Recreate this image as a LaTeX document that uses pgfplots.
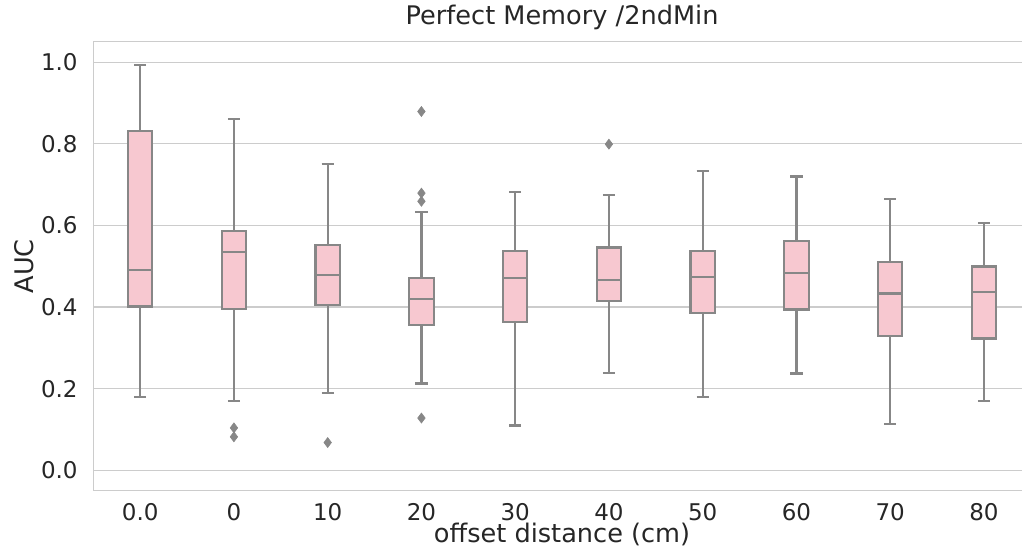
\documentclass[border=0pt]{standalone}
\usepackage{fontspec}
\setmainfont{DejaVu Sans}
\usepackage{pgfplots}
\pgfplotsset{compat=1.18}
\usepgfplotslibrary{statistics}
\definecolor{boxpink}{HTML}{F7C8D0}
\definecolor{boxgray}{HTML}{878787}
\definecolor{gridgray}{HTML}{CCCCCC}
\definecolor{txt}{HTML}{262626}
\newcommand{\bx}[6]{\addplot[boxplot prepared={draw direction=y, draw position=#1, lower whisker=#2, lower quartile=#3, median=#4, upper quartile=#5, upper whisker=#6, box extend=0.26, whisker extend=0.13}, draw=boxgray, fill=boxpink, line width=1.1pt] coordinates {};}
\begin{document}
\begin{tikzpicture}
\useasboundingbox (-46.65pt,-28.65pt) rectangle (464.35pt,245.35pt);
\clip (-46.65pt,-28.65pt) rectangle (464.35pt,245.35pt);
\begin{axis}[
  scale only axis, width=468.75pt, height=224.5pt,
  xmin=-0.5, xmax=9.5, ymin=-0.05, ymax=1.05,
  boxplot/draw direction=y,
  xtick={0,...,9}, xticklabels={0.0,0,10,20,30,40,50,60,70,80},
  ytick={0,0.2,0.4,0.6,0.8,1.0},
  /pgf/number format/assume math mode=true,
  yticklabel style={/pgf/number format/fixed, /pgf/number format/fixed zerofill, /pgf/number format/precision=1},
  major tick length=0pt,
  ymajorgrids=true,
  grid style={draw=gridgray, line width=0.6pt},
  axis line style={draw=gridgray, line width=0.7pt},
  tick label style={text=txt, font=\fontsize{11.5}{13}\selectfont},
  xticklabel style={anchor=base, inner sep=0pt, yshift=-14.65pt},
  yticklabel style={anchor=east, inner sep=0pt, xshift=-7.65pt},
  title={Perfect Memory /2ndMin},
  title style={at={(0.5,1)}, anchor=base, inner sep=0pt, yshift=2.85pt, text=txt, font=\fontsize{12.8}{14}\selectfont},
  xlabel={offset distance (cm)},
  xlabel style={at={(axis description cs:0.5,0)}, anchor=base, inner sep=0pt, yshift=-25.9pt, text=txt, font=\fontsize{12.8}{14}\selectfont},
  ylabel={AUC},
  ylabel style={at={(axis description cs:-0.064,0.5)}, anchor=base, inner sep=0pt, text=txt, font=\fontsize{12.8}{14}\selectfont},
]
\bx{0}{0.179}{0.4015}{0.4906}{0.8315}{0.992}
\bx{1}{0.169}{0.3957}{0.5347}{0.587}{0.860}
\bx{2}{0.189}{0.404}{0.478}{0.552}{0.751}
\bx{3}{0.2126}{0.3557}{0.420}{0.4718}{0.6336}
\bx{4}{0.110}{0.363}{0.4718}{0.537}{0.681}
\bx{5}{0.2388}{0.4145}{0.4669}{0.546}{0.674}
\bx{6}{0.179}{0.386}{0.4726}{0.538}{0.734}
\bx{7}{0.237}{0.394}{0.484}{0.5625}{0.720}
\bx{8}{0.1137}{0.3295}{0.433}{0.511}{0.665}
\bx{9}{0.169}{0.323}{0.4374}{0.4995}{0.605}
\addplot[only marks, mark=diamond*, mark size=2.5pt, color=boxgray, mark options={fill=boxgray, draw=boxgray, line width=0.3pt}] coordinates {(1,0.104) (1,0.082) (2,0.068) (3,0.879) (3,0.679) (3,0.659) (3,0.128) (5,0.799)};
\end{axis}
\end{tikzpicture}
\end{document}
